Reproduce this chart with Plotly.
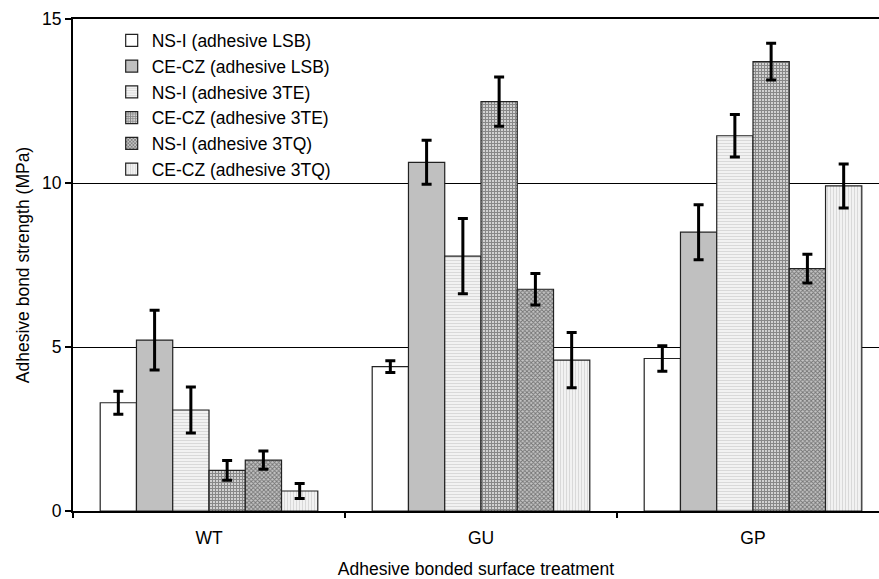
import plotly.graph_objects as go

categories = ["WT", "GU", "GP"]
cat_pos = [0, 1, 2]

series_names = [
    "NS-I (adhesive LSB)",
    "CE-CZ (adhesive LSB)",
    "NS-I (adhesive 3TE)",
    "CE-CZ (adhesive 3TE)",
    "NS-I (adhesive 3TQ)",
    "CE-CZ (adhesive 3TQ)",
]

nsi_lsb = [3.30, 4.40, 4.65]
nsi_lsb_err = [0.35, 0.18, 0.39]
cecz_lsb = [5.21, 10.63, 8.50]
cecz_lsb_err = [0.91, 0.67, 0.84]
nsi_3te = [3.08, 7.77, 11.44]
nsi_3te_err = [0.70, 1.15, 0.65]
cecz_3te = [1.24, 12.48, 13.70]
cecz_3te_err = [0.30, 0.75, 0.56]
nsi_3tq = [1.55, 6.76, 7.39]
nsi_3tq_err = [0.28, 0.48, 0.44]
cecz_3tq = [0.61, 4.60, 9.91]
cecz_3tq_err = [0.23, 0.84, 0.67]

values = [nsi_lsb, cecz_lsb, nsi_3te, cecz_3te, nsi_3tq, cecz_3tq]
errors = [nsi_lsb_err, cecz_lsb_err, nsi_3te_err, cecz_3te_err, nsi_3tq_err, cecz_3tq_err]

y_ticks = [0, 5, 10, 15]

styles = [
    dict(color="white", pattern=None),
    dict(color="#c0c0c0", pattern=None),
    dict(color="#f2f2f2", pattern=dict(shape="-", fgcolor="#bdbdbd", bgcolor="#f4f4f4", size=3, solidity=0.4)),
    dict(color="white", pattern=dict(shape="+", fgcolor="#111111", bgcolor="white", size=3, solidity=0.7)),
    dict(color="#888888", pattern=dict(shape="x", fgcolor="#222222", bgcolor="#c4c4c4", size=3, solidity=0.5)),
    dict(color="#eeeeee", pattern=dict(shape="|", fgcolor="#bdbdbd", bgcolor="#f4f4f4", size=3, solidity=0.4)),
]

FONT = "Liberation Sans, Arial, sans-serif"
FS = 17.5

fig = go.Figure()
for i, (name, vals, errs, st) in enumerate(zip(series_names, values, errors, styles)):
    marker = dict(color=st["color"], line=dict(color="#222222", width=1.2))
    if st["pattern"] is not None:
        marker["pattern"] = st["pattern"]
    fig.add_trace(go.Bar(
        name=name,
        x=cat_pos,
        y=vals,
        legendgroup=f"g{i}",
        marker=marker,
        error_y=dict(type="data", array=errs, visible=True, color="black", thickness=3, width=5),
    ))

fig.update_layout(
    width=879,
    height=579,
    margin=dict(l=73, r=0, t=19, b=68),
    paper_bgcolor="white",
    plot_bgcolor="white",
    barmode="group",
    bargap=0.2,
    bargroupgap=0,
    font=dict(family=FONT, size=FS, color="black"),
    showlegend=True,
    legend=dict(
        x=0.048, y=0.993, xanchor="left", yanchor="top",
        bgcolor="rgba(0,0,0,0)", borderwidth=0,
        font=dict(family=FONT, size=FS, color="black"),
        tracegroupgap=0,
        itemclick=False,
    ),
    xaxis=dict(
        range=[-0.5, -0.5 + 806 / 272],
        tickmode="array",
        tickvals=cat_pos,
        ticktext=categories,
        ticks="",
        ticklabelstandoff=10,
        showgrid=False,
        zeroline=False,
        showline=True,
        linecolor="black",
        linewidth=2,
        mirror=True,
        automargin=False,
        minor=dict(tick0=0.5, dtick=1, ticks="outside", ticklen=5, tickcolor="black", tickwidth=1.5, showgrid=False),
        title=dict(text="Adhesive bonded surface treatment", font=dict(size=FS), standoff=21),
        tickfont=dict(size=FS),
        fixedrange=True,
    ),
    yaxis=dict(
        range=[0, 15],
        tickmode="array",
        tickvals=y_ticks,
        ticks="outside",
        ticklen=6,
        tickcolor="black",
        tickwidth=1.5,
        showgrid=True,
        gridcolor="black",
        gridwidth=1,
        zeroline=False,
        showline=True,
        linecolor="black",
        linewidth=2,
        automargin=False,
        title=dict(text="Adhesive bond strength (MPa)", font=dict(size=FS), standoff=8),
        tickfont=dict(size=FS),
        fixedrange=True,
    ),
)

fig.write_html(
    "out.html",
    config={"displayModeBar": False},
    post_script="document.body.style.margin='0';document.body.style.padding='0';",
)
